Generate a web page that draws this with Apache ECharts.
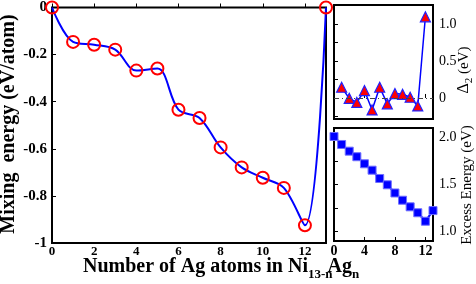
<!DOCTYPE html>
<html><head><meta charset="utf-8">
<script src="https://cdn.jsdelivr.net/npm/echarts@6/dist/echarts.min.js"></script>
<style>html,body{margin:0;padding:0;background:#fff}#c{width:476px;height:284px}</style>
</head><body><div id="c"></div>
<script>
const nAtoms = [0,1,2,3,4,5,6,7,8,9,10,11,12,13];
const mixingEnergy = [0,-0.146,-0.158,-0.179,-0.268,-0.259,-0.434,-0.469,-0.594,-0.679,-0.723,-0.766,-0.925,0];
const deltaN = [1,2,3,4,5,6,7,8,9,10,11,12];
const delta2 = [0.145,-0.005,-0.06,0.10,-0.162,0.145,-0.08,0.06,0.05,0.01,-0.108,1.10];
const excessEnergy = [2.01,1.925,1.854,1.795,1.72,1.652,1.564,1.497,1.41,1.333,1.263,1.2,1.11,1.223];
const mainXTicks = [0,2,4,6,8,10,12];
const insetXTicks = [0,4,8,12];
const mainYTicks = [0,-0.2,-0.4,-0.6,-0.8,-1];
const deltaTicks = [0,0.5,1.0];
const excessTicks = [1.0,1.5,2.0];

const serif = '"Liberation Serif","DejaVu Serif",serif';
const chart = echarts.init(document.getElementById('c'), null, {renderer:'canvas'});
const pair = (xs, ys) => xs.map((x,i)=>[x, ys[i]]);

const mctx = document.createElement('canvas').getContext('2d');
function measure(text, font){ mctx.font = font; return mctx.measureText(text).width; }
// pieces: [text, font, dy, dxAfter]; children positioned left to right from 0, vertically centred at dy
function pieces(list){
  let x = 0; const out = [];
  list.forEach(([t, f, dy, dxa]) => {
    out.push({type:'text', x:x, y:dy, style:{text:t, font:f, fill:'#000', align:'left', verticalAlign:'middle'}});
    x += measure(t, f) + (dxa || 0);
  });
  return {children:out, width:x};
}
const bigB = 'bold 20px ' + serif, subB = 'bold 13px ' + serif;
const xt = pieces([['Number of Ag atoms in Ni', bigB, 0, 0], ['13-n', subB, 8, -5], ['Ag', bigB, 0, 0], ['n', subB, 8, 0]]);
const dl = pieces([['\u0394', '16px '+serif, 0, 0], ['2', '11px '+serif, 5, 0], [' (eV)', '15px '+serif, 0, 0]]);

chart.setOption({
  animation:false,
  backgroundColor:'#fff',
  grid:[
    {left:52, top:6, width:274, height:237, show:true, borderColor:'#000', borderWidth:2},
    {left:334, top:5, width:99, height:114, show:true, borderColor:'#000', borderWidth:2},
    {left:334, top:128, width:99, height:113, show:true, borderColor:'#000', borderWidth:2}
  ],
  xAxis:[
    {gridIndex:0, type:'value', min:0, max:13,
     axisLine:{show:false}, splitLine:{show:false},
     axisTick:{inside:true, length:4, customValues:mainXTicks, lineStyle:{color:'#000'}},
     axisLabel:{margin:2, color:'#000', fontFamily:serif, fontWeight:'bold', fontSize:13,
       customValues:mainXTicks, formatter:v=>String(v)}},
    {gridIndex:1, type:'value', min:0, max:13,
     axisLine:{show:false}, splitLine:{show:false},
     axisTick:{inside:true, length:4, customValues:insetXTicks, lineStyle:{color:'#000'}},
     axisLabel:{show:false}},
    {gridIndex:2, type:'value', min:0, max:13,
     axisLine:{show:false}, splitLine:{show:false},
     axisTick:{inside:true, length:4, customValues:insetXTicks, lineStyle:{color:'#000'}},
     axisLabel:{margin:3, color:'#000', fontFamily:serif, fontWeight:'bold', fontSize:14,
       customValues:insetXTicks, formatter:v=>String(v)}}
  ],
  yAxis:[
    {gridIndex:0, type:'value', min:-1, max:0,
     axisLine:{show:false}, splitLine:{show:false},
     axisTick:{inside:true, length:4, customValues:mainYTicks, lineStyle:{color:'#000'}},
     axisLabel:{margin:5, color:'#000', fontFamily:serif, fontWeight:'bold', fontSize:15,
       customValues:mainYTicks,
       formatter:v=>{ if (Math.abs(v)<1e-9) return '0'; if (Math.abs(v+1)<1e-9) return '-1'; return v.toFixed(1);} }},
    {gridIndex:1, type:'value', min:-0.285, max:1.26, position:'right',
     axisLine:{show:false}, splitLine:{show:false},
     axisTick:{show:true, inside:false, length:4, customValues:[-0.25,0,0.25,0.5,0.75,1.0,1.25], lineStyle:{color:'#000'}},
     axisLabel:{margin:6, color:'#000', fontFamily:serif, fontSize:14, customValues:deltaTicks,
       formatter:v=>Math.abs(v)<1e-9?'0':v.toFixed(1)}},
    {gridIndex:2, type:'value', min:0.9, max:2.1, position:'right',
     axisLine:{show:false}, splitLine:{show:false},
     axisTick:{show:true, inside:false, length:4, customValues:[1.0,1.25,1.5,1.75,2.0], lineStyle:{color:'#000'}},
     axisLabel:{margin:6, color:'#000', fontFamily:serif, fontSize:14, customValues:excessTicks,
       formatter:v=>v.toFixed(1)}}
  ],
  series:[
    {type:'line', xAxisIndex:0, yAxisIndex:0, data:pair(nAtoms, mixingEnergy), smooth:0.35,
     clip:false, z:3,
     lineStyle:{color:'#0000ff', width:2},
     symbol:'circle', symbolSize:12,
     itemStyle:{color:'rgba(0,0,0,0)', borderColor:'#ff0000', borderWidth:2}},
    {type:'line', xAxisIndex:1, yAxisIndex:1, data:pair(deltaN, delta2),
     lineStyle:{color:'#0000ff', width:1.5},
     symbol:'triangle', symbolSize:10,
     itemStyle:{color:'#ff0000', borderColor:'#2020ff', borderWidth:1.2},
     markLine:{silent:true, symbol:'none', label:{show:false},
       lineStyle:{color:'#444', width:1, type:[5,3,1,3]}, data:[{yAxis:0}]}},
    {type:'line', xAxisIndex:2, yAxisIndex:2, data:pair(nAtoms, excessEnergy), clip:false,
     lineStyle:{color:'#0000ff', width:2},
     symbol:'rect', symbolSize:8,
     itemStyle:{color:'#0000ff', borderColor:'#6f6fff', borderWidth:1}}
  ],
  graphic:[
    {type:'text', x:9, y:124, rotation:Math.PI/2,
     style:{text:'Mixing  energy (eV/atom)', font:bigB, fill:'#000', align:'center', verticalAlign:'middle'}},
    {type:'group', x:83, y:267, children:xt.children},
    {type:'group', x:464, y:70 + dl.width/2, rotation:Math.PI/2, children:dl.children},
    {type:'text', x:467, y:185, rotation:Math.PI/2,
     style:{text:'Excess Energy (eV)', font:'15px '+serif, fill:'#000', align:'center', verticalAlign:'middle'}}
  ]
});
</script></body></html>
